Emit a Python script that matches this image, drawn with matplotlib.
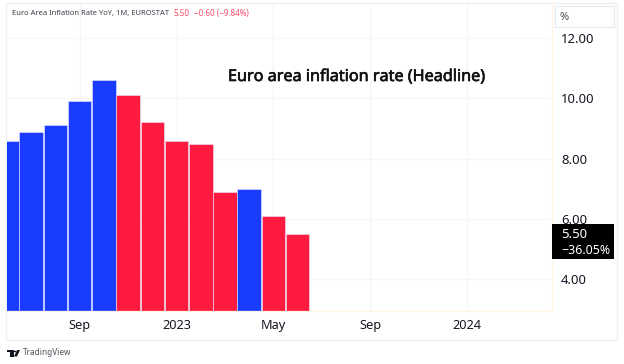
import matplotlib
matplotlib.use("Agg")
import matplotlib.pyplot as plt
import matplotlib.patheffects as pe
from matplotlib.patches import Rectangle, Polygon, Circle

W, H = 624, 364
values = [8.6, 8.9, 9.1, 9.9, 10.6, 10.1, 9.2, 8.6, 8.5, 6.9, 7.0, 6.1, 5.5]
colors_up = ["b", "b", "b", "b", "b", "r", "r", "r", "r", "r", "b", "r", "r"]
tick_idx = [3, 7, 11, 15, 19]
tick_labels = ["Sep", "2023", "May", "Sep", "2024"]
y_ticks = [4, 6, 8, 10, 12]
y_labels = ["4.00", "6.00", "8.00", "10.00", "12.00"]
BLUE, RED = "#1a3cff", "#ff1a40"

plt.rcParams["font.family"] = ["Noto Sans", "DejaVu Sans"]
fig = plt.figure(figsize=(W / 100, H / 100), dpi=100, facecolor="white")

def fx(x): return x / W
def fy(y): return 1 - y / H

# outer frame
fig.add_artist(Rectangle((fx(6), fy(340)), (617 - 6) / W, (340 - 3) / H, transform=fig.transFigure,
                         fc="white", ec="#eef0f3", lw=1, zorder=-5))

L, R, T, B = 6.5, 552, 3.5, 311
ax = fig.add_axes([fx(L), fy(B), (R - L) / W, (B - T) / H], zorder=1)
ax.patch.set_alpha(0)
px_per_bar = 24.22
x0 = 7.0
ax.set_xlim((L - x0) / px_per_bar, (R - x0) / px_per_bar)
px_per_unit = 30.1
ax.set_ylim(4 - (B - 279) / px_per_unit, 4 + (279 - T) / px_per_unit)
ax.set_axisbelow(True)
ax.grid(True, color="#f6f6f8", lw=0.9)
bar_colors = [BLUE if c == "b" else RED for c in colors_up]
ax.bar(range(len(values)), values, width=0.97, color=bar_colors, edgecolor="#e4e8ff", lw=0.4)

ax.set_xticks(tick_idx, tick_labels, fontsize=9.2, color="#131722")
ax.set_yticks(y_ticks, y_labels, fontsize=9.4, color="#131722")
ax.yaxis.tick_right()
ax.tick_params(axis="both", length=0)
ax.tick_params(axis="x", pad=6)
ax.tick_params(axis="y", pad=6.5)
for s in ["top", "left"]:
    ax.spines[s].set_visible(False)
for s in ["right", "bottom"]:
    ax.spines[s].set_color("#fff3e3")
    ax.spines[s].set_linewidth(0.9)

# header
fig.text(fx(12), fy(13.5), "Euro Area Inflation Rate YoY, 1M, EUROSTAT", fontsize=5.45, color="#3b3f4a", va="center", zorder=5)
fig.text(fx(174), fy(13.5), "5.50", fontsize=5.8, color="#ff4a68", va="center", zorder=5)
fig.text(fx(194.5), fy(13.5), "\u22120.60 (\u22129.84%)", fontsize=5.8, color="#ff4a68", va="center", zorder=5)

# annotation title
fig.text(fx(228), fy(77), "Euro area inflation rate (Headline)", fontsize=11.65,
         color="#111111", va="center", zorder=5,
         path_effects=[pe.withStroke(linewidth=0.45, foreground="#111111")])

# % box
fig.add_artist(Rectangle((fx(554.5), fy(27)), 59 / W, 20.5 / H, transform=fig.transFigure,
                         fc="white", ec="#e6e9ee", lw=0.9, zorder=5))
fig.text(fx(560), fy(18), "%", fontsize=8, color="#50535e", va="center", zorder=6)

# last value label
fig.add_artist(Rectangle((fx(552), fy(259)), 62 / W, 35 / H, transform=fig.transFigure, fc="black", ec="none", zorder=5))
fig.text(fx(561.5), fy(235), "5.50", fontsize=9.4, color="white", va="center", zorder=6)
fig.text(fx(561.5), fy(250), "\u221236.05%", fontsize=8.9, color="white", va="center", zorder=6)

# TradingView logo
c = "#131722"
fig.add_artist(Rectangle((fx(7), fy(351.5)), 6.5 / W, 2 / H, transform=fig.transFigure, fc=c, ec="none", zorder=5))
fig.add_artist(Rectangle((fx(10), fy(356.5)), 3.5 / W, 6 / H, transform=fig.transFigure, fc=c, ec="none", zorder=6))
fig.add_artist(Circle((fx(15), fy(351.5)), 1.3 / W, transform=fig.transFigure, fc=c, ec="none", zorder=6))
fig.add_artist(Polygon([(fx(14), fy(356.5)), (fx(17), fy(350)), (fx(20), fy(350)), (fx(17), fy(356.5))],
                       transform=fig.transFigure, fc=c, ec="none", zorder=6))
fig.text(fx(22.5), fy(352.5), "TradingView", fontsize=5.9, color="#50535e", va="center", zorder=6)

fig.savefig("out.png", dpi=100)
